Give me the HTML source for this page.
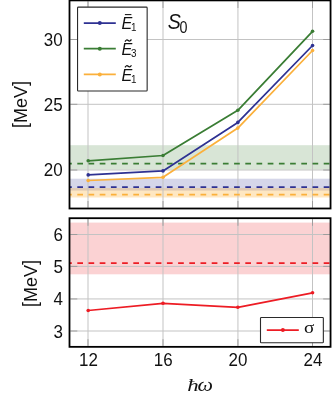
<!DOCTYPE html>
<html>
<head>
<meta charset="utf-8">
<title>S0 energies vs hbar omega</title>
<style>
html,body{margin:0;padding:0;background:#fff;}
body{width:332px;height:398px;overflow:hidden;font-family:"Liberation Sans",sans-serif;}
svg{display:block;}
text{font-family:"Liberation Sans",sans-serif;fill:#111;}
.ser{font-family:"Liberation Serif",serif;}
.grid line{stroke:#c3c3c3;stroke-width:1;}
.tick line{stroke:#989898;stroke-width:0.9;}
.spine{fill:none;stroke:#000;stroke-width:1.8;}
.tl{font-size:17.7px;}
</style>
</head>
<body>
<svg width="332" height="398" viewBox="0 0 332 398" style="will-change:transform;opacity:0.9999">
<defs>
<clipPath id="c1"><rect x="69.6" y="0.5" width="261.1" height="208"/></clipPath>
<clipPath id="c2"><rect x="69.6" y="218.2" width="261.1" height="128.6"/></clipPath>
</defs>
<rect width="332" height="398" fill="#fff"/>

<!-- ================= TOP AXES ================= -->
<g clip-path="url(#c1)">
  <!-- bands -->
  <rect x="69" y="145.2" width="263" height="24.45" fill="#3a7d34" fill-opacity="0.2"/>
  <rect x="69" y="178.7" width="263" height="11.9" fill="#2e3192" fill-opacity="0.2"/>
  <rect x="69" y="188.05" width="263" height="9.45" fill="#fbb03b" fill-opacity="0.31"/>
  <!-- grid -->
  <g class="grid">
    <line x1="88.0" y1="0" x2="88.0" y2="209"/>
    <line x1="163.0" y1="0" x2="163.0" y2="209"/>
    <line x1="237.95" y1="0" x2="237.95" y2="209"/>
    <line x1="312.5" y1="0" x2="312.5" y2="209"/>
    <line x1="69" y1="39.5" x2="332" y2="39.5"/>
    <line x1="69" y1="104.3" x2="332" y2="104.3"/>
    <line x1="69" y1="170.0" x2="332" y2="170.0"/>
  </g>
  <!-- dashed refs -->
  <g fill="none" stroke-width="1.75" stroke-dasharray="5.7 5.5">
    <line x1="66.1" y1="163.6" x2="332" y2="163.6" stroke="#3a7d34"/>
    <line x1="66.1" y1="187.2" x2="332" y2="187.2" stroke="#2e3192"/>
    <line x1="66.1" y1="194.6" x2="332" y2="194.6" stroke="#fbb03b"/>
  </g>
  <!-- data -->
  <g fill="none" stroke-width="1.75" stroke-linejoin="round">
    <polyline stroke="#2e3192" points="88.2,174.9 163.0,170.9 237.85,122.4 312.55,45.5"/>
    <polyline stroke="#3a7d34" points="88.2,160.8 163.0,155.5 237.85,110.3 312.55,31.3"/>
    <polyline stroke="#fbb03b" points="88.2,180.5 163.0,177.3 237.85,128.1 312.55,50.5"/>
  </g>
  <g fill="#2e3192"><circle cx="88.2" cy="174.9" r="1.8"/><circle cx="163.0" cy="170.9" r="1.8"/><circle cx="237.85" cy="122.4" r="1.8"/><circle cx="312.55" cy="45.5" r="1.8"/></g>
  <g fill="#3a7d34"><circle cx="88.2" cy="160.8" r="1.8"/><circle cx="163.0" cy="155.5" r="1.8"/><circle cx="237.85" cy="110.3" r="1.8"/><circle cx="312.55" cy="31.3" r="1.8"/></g>
  <g fill="#fbb03b"><circle cx="88.2" cy="180.5" r="1.8"/><circle cx="163.0" cy="177.3" r="1.8"/><circle cx="237.85" cy="128.1" r="1.8"/><circle cx="312.55" cy="50.5" r="1.8"/></g>
</g>
<!-- ticks top axes -->
<g class="tick">
  <line x1="70.6" y1="39.5" x2="77.3" y2="39.5"/><line x1="323.2" y1="39.5" x2="329.7" y2="39.5"/>
  <line x1="70.6" y1="104.3" x2="77.3" y2="104.3"/><line x1="323.2" y1="104.3" x2="329.7" y2="104.3"/>
  <line x1="70.6" y1="170.0" x2="77.3" y2="170.0"/><line x1="323.2" y1="170.0" x2="329.7" y2="170.0"/>
  <line x1="88.0" y1="1.5" x2="88.0" y2="8" stroke="#b2b2b2"/><line x1="88.0" y1="201" x2="88.0" y2="207.5" stroke="#b2b2b2"/>
  <line x1="163.0" y1="1.5" x2="163.0" y2="8" stroke="#b2b2b2"/><line x1="163.0" y1="201" x2="163.0" y2="207.5" stroke="#b2b2b2"/>
  <line x1="237.95" y1="1.5" x2="237.95" y2="8" stroke="#b2b2b2"/><line x1="237.95" y1="201" x2="237.95" y2="207.5" stroke="#b2b2b2"/>
  <line x1="312.5" y1="1.5" x2="312.5" y2="8" stroke="#b2b2b2"/><line x1="312.5" y1="201" x2="312.5" y2="207.5" stroke="#b2b2b2"/>
</g>
<!-- legend top -->
<rect x="77.55" y="7.1" width="69.6" height="83.95" rx="0.8" fill="#fff" stroke="#2a2a2a" stroke-width="1.1"/>
<g stroke-width="1.75">
  <line x1="83.8" y1="23.0" x2="115.8" y2="23.0" stroke="#2e3192"/><circle cx="99.8" cy="23.0" r="2" fill="#2e3192"/>
  <line x1="83.8" y1="48.7" x2="115.8" y2="48.7" stroke="#3a7d34"/><circle cx="99.8" cy="48.7" r="2" fill="#3a7d34"/>
  <line x1="83.8" y1="74.4" x2="115.8" y2="74.4" stroke="#fbb03b"/><circle cx="99.8" cy="74.4" r="2" fill="#fbb03b"/>
</g>
<g font-size="17px" font-style="italic">
  <text transform="translate(121.5,28.8) scale(0.95,1)">E</text>
  <text transform="translate(121.5,55.0) scale(0.95,1)">E</text>
  <text transform="translate(121.5,80.8) scale(0.95,1)">E</text>
</g>
<g font-size="10.8px">
  <text transform="translate(130.9,30.6) scale(0.92,1)">1</text>
  <text transform="translate(130.9,57.0) scale(0.92,1)">3</text>
  <text transform="translate(130.9,82.6) scale(0.92,1)">1</text>
</g>
<line x1="124.9" y1="14.6" x2="131.4" y2="14.6" stroke="#111" stroke-width="1.05"/>
<path d="M125.0,41.6 q1.5,-2.7 3.2,-1.1 q1.7,1.6 3.2,-1.1" fill="none" stroke="#111" stroke-width="1.25"/>
<path d="M125.0,67.4 q1.5,-2.7 3.2,-1.1 q1.7,1.6 3.2,-1.1" fill="none" stroke="#111" stroke-width="1.25"/>
<!-- S0 -->
<text transform="translate(167.7,28.9) scale(0.9,1)" font-size="21.8px" font-style="italic">S</text>
<text transform="translate(179.5,32.8) scale(0.88,1)" font-size="16.3px">0</text>
<!-- spines top -->
<rect class="spine" x="69.5" y="0.4" width="261.05" height="208.1"/>
<!-- tick labels top -->
<text class="tl" text-anchor="end" transform="translate(62.7,45.9) scale(0.96,1)">30</text>
<text class="tl" text-anchor="end" transform="translate(62.7,111.0) scale(0.96,1)">25</text>
<text class="tl" text-anchor="end" transform="translate(62.7,176.2) scale(0.96,1)">20</text>
<g transform="translate(27.1,104.4) rotate(-90)" font-size="18.0px"><text transform="translate(-23.51,0) scale(1,1.13)">[</text><text x="-18.50" y="0">MeV</text><text transform="translate(18.50,0) scale(1,1.13)">]</text></g>

<!-- ================= BOTTOM AXES ================= -->
<g clip-path="url(#c2)">
  <rect x="69" y="222.6" width="263" height="51.7" fill="#ed1c24" fill-opacity="0.2"/>
  <g class="grid">
    <line x1="88.0" y1="217" x2="88.0" y2="348"/>
    <line x1="163.0" y1="217" x2="163.0" y2="348"/>
    <line x1="237.95" y1="217" x2="237.95" y2="348"/>
    <line x1="312.5" y1="217" x2="312.5" y2="348"/>
    <line x1="69" y1="234.5" x2="332" y2="234.5"/>
    <line x1="69" y1="266.4" x2="332" y2="266.4"/>
    <line x1="69" y1="298.95" x2="332" y2="298.95"/>
    <line x1="69" y1="331.0" x2="332" y2="331.0"/>
  </g>
  <line x1="66.1" y1="263.2" x2="332" y2="263.2" stroke="#ed1c24" stroke-width="1.75" stroke-dasharray="5.7 5.5"/>
  <polyline fill="none" stroke="#ed1c24" stroke-width="1.75" stroke-linejoin="round" points="88.2,310.5 163.0,303.3 237.85,307.3 312.55,292.8"/>
  <g fill="#ed1c24"><circle cx="88.2" cy="310.5" r="1.8"/><circle cx="163.0" cy="303.3" r="1.8"/><circle cx="237.85" cy="307.3" r="1.8"/><circle cx="312.55" cy="292.8" r="1.8"/></g>
</g>
<g class="tick">
  <line x1="70.6" y1="234.5" x2="77.3" y2="234.5"/><line x1="323.2" y1="234.5" x2="329.7" y2="234.5"/>
  <line x1="70.6" y1="266.4" x2="77.3" y2="266.4"/><line x1="323.2" y1="266.4" x2="329.7" y2="266.4"/>
  <line x1="70.6" y1="298.95" x2="77.3" y2="298.95"/><line x1="323.2" y1="298.95" x2="329.7" y2="298.95"/>
  <line x1="70.6" y1="331.0" x2="77.3" y2="331.0"/><line x1="323.2" y1="331.0" x2="329.7" y2="331.0"/>
  <line x1="88.0" y1="219.2" x2="88.0" y2="225.8" stroke="#b2b2b2"/><line x1="88.0" y1="339.2" x2="88.0" y2="345.8" stroke="#b2b2b2"/>
  <line x1="163.0" y1="219.2" x2="163.0" y2="225.8" stroke="#b2b2b2"/><line x1="163.0" y1="339.2" x2="163.0" y2="345.8" stroke="#b2b2b2"/>
  <line x1="237.95" y1="219.2" x2="237.95" y2="225.8" stroke="#b2b2b2"/><line x1="237.95" y1="339.2" x2="237.95" y2="345.8" stroke="#b2b2b2"/>
  <line x1="312.5" y1="219.2" x2="312.5" y2="225.8" stroke="#b2b2b2"/><line x1="312.5" y1="339.2" x2="312.5" y2="345.8" stroke="#b2b2b2"/>
</g>
<!-- legend bottom -->
<rect x="260.5" y="317.5" width="62.85" height="25.3" rx="0.8" fill="#fff" stroke="#2a2a2a" stroke-width="1.1"/>
<line x1="266.8" y1="330.1" x2="298.8" y2="330.1" stroke="#ed1c24" stroke-width="1.75"/><circle cx="282.9" cy="330.1" r="2" fill="#ed1c24"/>
<text class="ser" transform="translate(304.0,332.8) scale(1.12,1)" font-size="17.2px">σ</text>
<rect class="spine" x="69.5" y="218.2" width="261.05" height="128.65"/>
<text class="tl" text-anchor="end" transform="translate(62.9,240.8) scale(0.96,1)">6</text>
<text class="tl" text-anchor="end" transform="translate(62.9,273.2) scale(0.96,1)">5</text>
<text class="tl" text-anchor="end" transform="translate(62.9,305.4) scale(0.96,1)">4</text>
<text class="tl" text-anchor="end" transform="translate(62.9,337.8) scale(0.96,1)">3</text>
<text class="tl" text-anchor="middle" transform="translate(88.5,366.1) scale(0.96,1)">12</text>
<text class="tl" text-anchor="middle" transform="translate(163.2,366.1) scale(0.96,1)">16</text>
<text class="tl" text-anchor="middle" transform="translate(237.9,366.1) scale(0.96,1)">20</text>
<text class="tl" text-anchor="middle" transform="translate(313.0,366.1) scale(0.96,1)">24</text>
<g transform="translate(37.0,283.6) rotate(-90)" font-size="18.0px"><text transform="translate(-23.51,0) scale(1,1.13)">[</text><text x="-18.50" y="0">MeV</text><text transform="translate(18.50,0) scale(1,1.13)">]</text></g>
<text class="ser" transform="translate(187.3,391.2) scale(1.3,1)" font-size="17.6px" font-style="italic">ħ</text>
<text class="ser" transform="translate(197.5,391.4) scale(1.18,1)" font-size="18.6px" font-style="italic">ω</text>
</svg>
</body>
</html>
